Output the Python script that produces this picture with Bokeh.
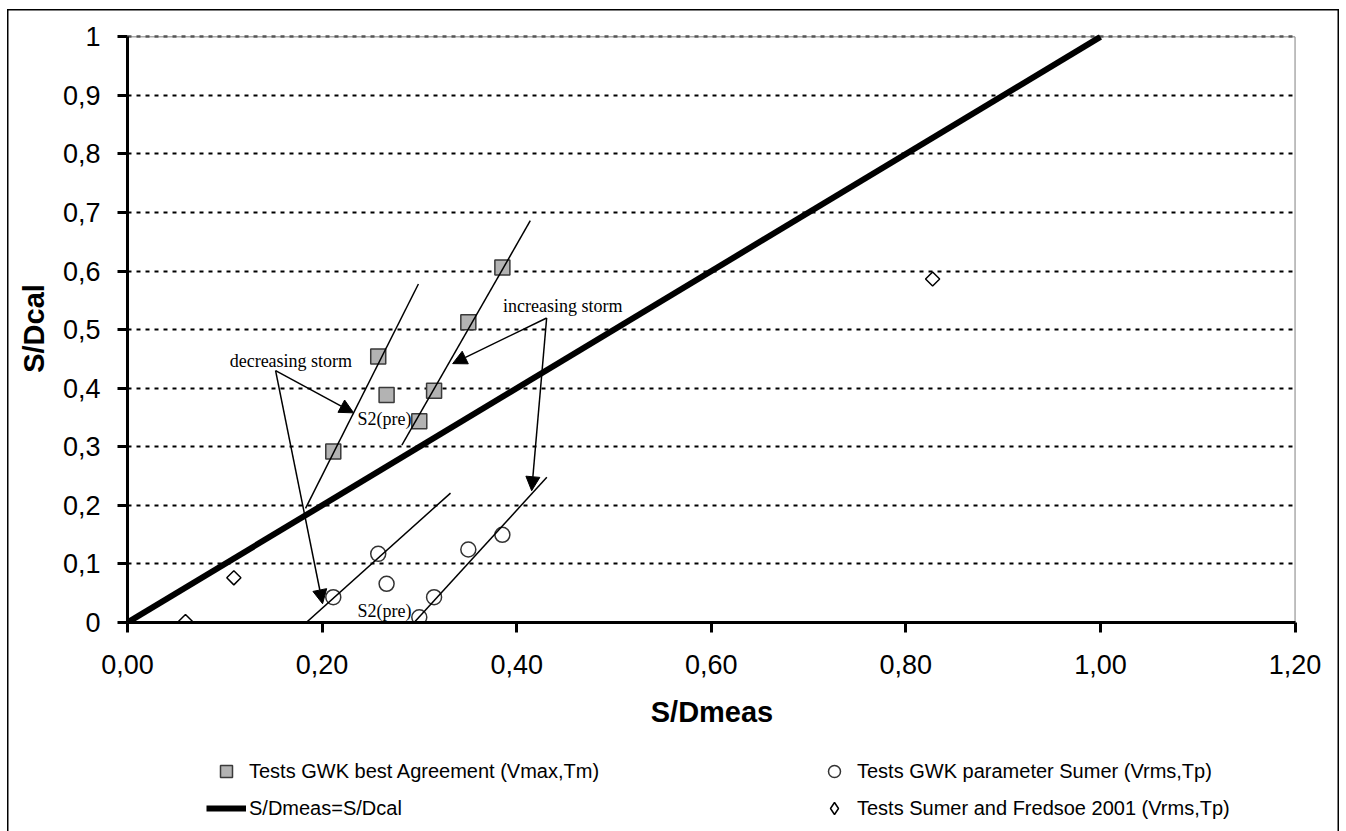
import math
from bokeh.plotting import figure
from bokeh.layouts import column
from bokeh.models import (Range1d, FixedTicker, Legend, LegendItem, Arrow,
                          NormalHead)
from bokeh.core.properties import value
from bokeh.embed import file_html
from bokeh.resources import INLINE

# ---------------- data ----------------
gwk_meas = [0.2115, 0.2577, 0.2663, 0.2999, 0.3151, 0.3503, 0.3853]
best_cal = [0.2918, 0.4544, 0.3886, 0.3435, 0.3959, 0.5125, 0.6063]
sumer_cal = [0.0432, 0.1172, 0.0660, 0.0090, 0.0432, 0.1246, 0.1497]
fredsoe_meas = [0.0596, 0.1093, 0.8275]
fredsoe_cal = [0.0017, 0.0763, 0.5865]
equal_x = [0.0, 1.0]
equal_y = [0.0, 1.0]

# hand-drawn trend lines (start / end)
trend_x = [[0.183, 0.299], [0.282, 0.414], [0.167, 0.332], [0.266, 0.431]]
trend_y = [[0.195, 0.578], [0.303, 0.686], [-0.025, 0.221], [-0.052, 0.248]]

# annotation texts
note_text = ["decreasing storm", "increasing storm", "S2(pre)", "S2(pre)"]
note_x = [0.105, 0.386, 0.2365, 0.2365]
note_y = [0.447, 0.541, 0.348, 0.019]

# arrows (start -> end)
arrow_x0 = [0.1522, 0.1522, 0.4308, 0.4308]
arrow_y0 = [0.430, 0.430, 0.520, 0.520]
arrow_x1 = [0.2324, 0.2005, 0.3342, 0.4154]
arrow_y1 = [0.358, 0.032, 0.442, 0.225]

x_ticks = [0.0, 0.2, 0.4, 0.6, 0.8, 1.0, 1.2]
x_tick_labels = ["0,00", "0,20", "0,40", "0,60", "0,80", "1,00", "1,20"]
y_ticks = [0.0, 0.1, 0.2, 0.3, 0.4, 0.5, 0.6, 0.7, 0.8, 0.9, 1.0]
y_tick_labels = ["0", "0,1", "0,2", "0,3", "0,4", "0,5", "0,6", "0,7", "0,8", "0,9", "1"]

legend_labels = ["Tests GWK best Agreement (Vmax,Tm)",
                 "Tests GWK parameter Sumer (Vrms,Tp)",
                 "S/Dmeas=S/Dcal",
                 "Tests Sumer and Fredsoe 2001 (Vrms,Tp)"]

SANS = "Liberation Sans"
SERIF = "Liberation Serif"

# ---------------- main chart ----------------
p = figure(width=1346, height=740, output_backend="svg", toolbar_location=None,
           x_range=Range1d(0, 1.2015), y_range=Range1d(0, 1.004),
           min_border_left=127, min_border_right=50, min_border_top=34,
           min_border_bottom=118)
p.background_fill_color = "white"
p.border_fill_color = None
p.outline_line_color = None
p.xgrid.visible = False

for ax in (p.xaxis[0], p.yaxis[0]):
    ax.axis_line_width = 3
    ax.axis_line_color = "black"
    ax.major_tick_line_width = 3
    ax.major_tick_line_color = "black"
    ax.major_tick_out = 10
    ax.major_tick_in = 0
    ax.minor_tick_line_color = None
    ax.major_label_text_font = SANS
    ax.major_label_text_font_size = "27px"
    ax.major_label_text_color = "black"
    ax.axis_label_text_font = SANS
    ax.axis_label_text_font_style = "bold"
    ax.axis_label_text_font_size = "29px"
    ax.axis_label_text_color = "black"

p.xaxis.bounds = (0, 1.2)
p.xaxis.ticker = FixedTicker(ticks=x_ticks)
p.xaxis.major_label_overrides = dict(zip(x_ticks, x_tick_labels))
p.xaxis.axis_label = "S/Dmeas"
p.xaxis.major_label_standoff = 22
p.xaxis.axis_label_standoff = 19

p.yaxis.bounds = (0, 1)
p.yaxis.ticker = FixedTicker(ticks=y_ticks)
p.yaxis.major_label_overrides = dict(zip(y_ticks, y_tick_labels))
p.yaxis.axis_label = "S/Dcal"
p.yaxis.major_label_standoff = 17
p.yaxis.axis_label_standoff = 10

p.ygrid.ticker = FixedTicker(ticks=y_ticks)
p.ygrid.grid_line_color = "black"
p.ygrid.grid_line_width = 2
p.ygrid.grid_line_dash = "4 5"

# plot-area border (top / right)
p.line([0, 1.2, 1.2], [1.0, 1.0, 0.0], line_color="#808080", line_width=1)

p.line(equal_x, equal_y, line_color="black", line_width=6)
p.scatter(gwk_meas, best_cal, marker="square", size=15,
          fill_color="#b3b3b3", line_color="#3a3a3a", line_width=1.5)
p.scatter(gwk_meas, sumer_cal, marker="circle", size=15,
          fill_color=None, line_color="#333333", line_width=1.5)
p.scatter(fredsoe_meas, fredsoe_cal, marker="square", size=10,
          angle=math.pi / 4, fill_color="white", line_color="black",
          line_width=1.5)

p.multi_line(trend_x, trend_y, line_color="black", line_width=1.5)

for xs, ys, xe, ye in zip(arrow_x0, arrow_y0, arrow_x1, arrow_y1):
    p.add_layout(Arrow(x_start=xs, y_start=ys, x_end=xe, y_end=ye,
                       line_color="black", line_width=1.5,
                       end=NormalHead(size=14, fill_color="black",
                                      line_color="black", line_width=1)))

p.text(note_x, note_y, text=note_text, text_font=value(SERIF),
       text_font_size="18px", text_baseline="middle", text_align="left",
       text_color="black")

# ---------------- legend strip ----------------
lp = figure(width=1346, height=91, output_backend="svg", toolbar_location=None,
            x_axis_type=None, y_axis_type=None, min_border=0,
            x_range=Range1d(0, 1.2), y_range=Range1d(-1, -0.5))
lp.background_fill_color = None
lp.border_fill_color = None
lp.outline_line_color = None

l_sq = lp.scatter(gwk_meas, best_cal, marker="square", size=15, visible=False,
                  fill_color="#b3b3b3", line_color="#3a3a3a", line_width=1.5)
l_ci = lp.scatter(gwk_meas, sumer_cal, marker="circle", size=15, visible=False,
                  fill_color=None, line_color="#333333", line_width=1.5)
l_eq = lp.line(equal_x, equal_y, line_color="black", line_width=6, visible=False)
l_di = lp.scatter(fredsoe_meas, fredsoe_cal, marker="diamond", size=12,
                  visible=False, fill_color="white", line_color="black",
                  line_width=1.5)

row_specs = [([l_sq, l_ci], [legend_labels[0], legend_labels[1]], (79, 45)),
             ([l_eq, l_di], [legend_labels[2], legend_labels[3]], (79, 8))]
for rends, labs, loc in row_specs:
    lg = Legend(items=[LegendItem(label=l, renderers=[r]) for l, r in zip(labs, rends)],
                orientation="horizontal", location=loc,
                glyph_width=40, glyph_height=30, label_height=30,
                label_width=359, label_standoff=3, spacing=206,
                padding=0, margin=0, border_line_color=None,
                background_fill_alpha=0, inactive_fill_alpha=0,
                label_text_font=SANS, label_text_font_size="20px",
                label_text_color="black")
    lp.add_layout(lg, "center")

page = column(p, lp, spacing=0,
              styles={"box-shadow": ("inset 7px 0 0 0 white, inset -7px 0 0 0 white, "
                                     "inset 0 9px 0 0 white, "
                                     "inset 8.5px 0 0 0 black, inset -8.5px 0 0 0 black, "
                                     "inset 0 10.5px 0 0 black")})

open("out.html", "w").write(file_html(page, INLINE))
